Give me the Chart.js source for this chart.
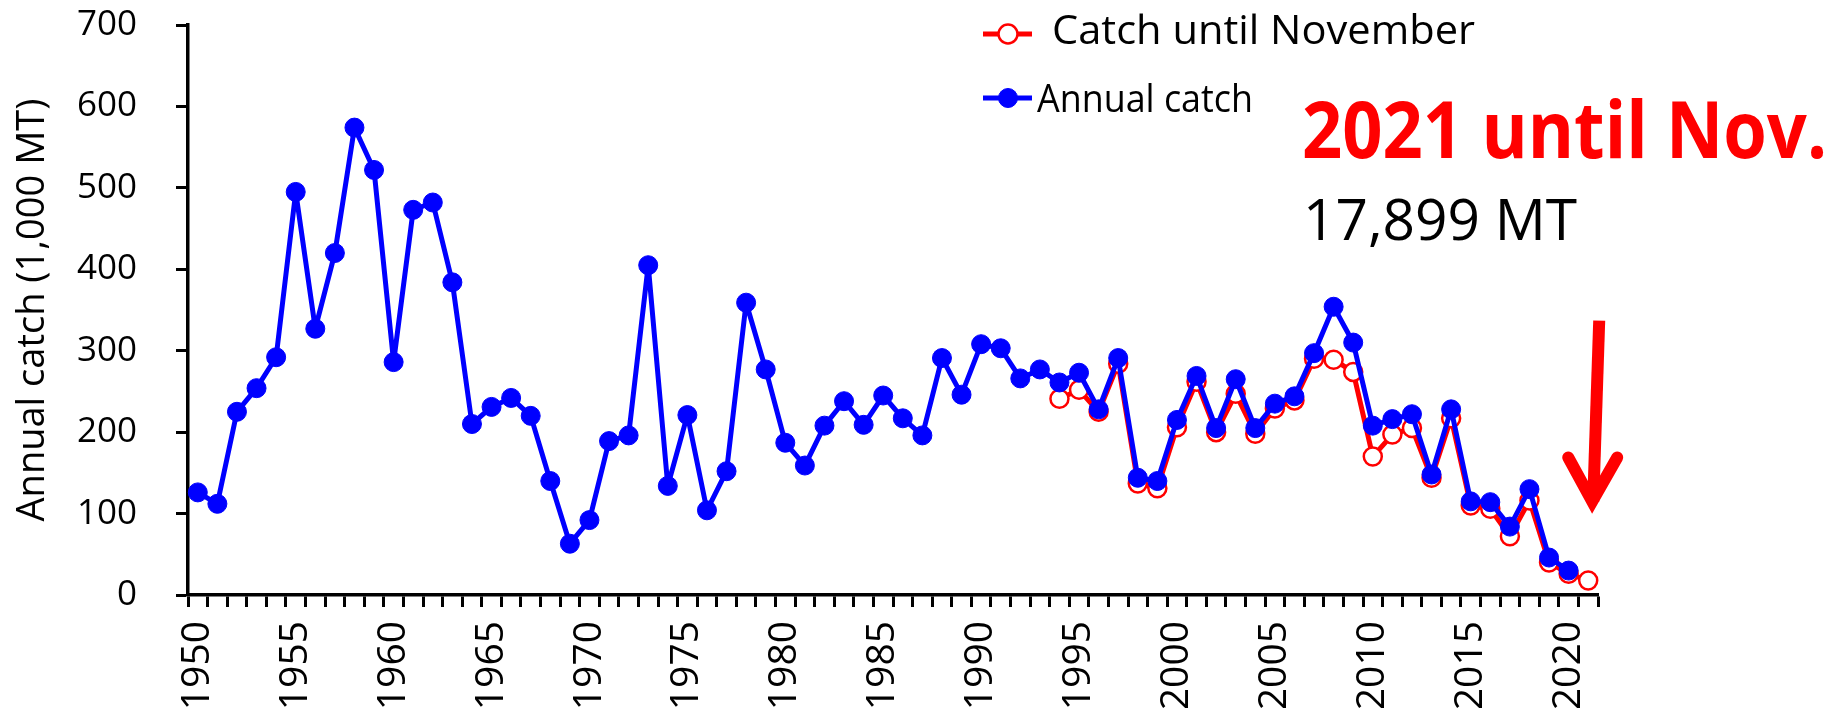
<!DOCTYPE html>
<html>
<head>
<meta charset="utf-8">
<title>Annual catch</title>
<script src="https://cdn.jsdelivr.net/npm/chart.js@4.4.1/dist/chart.umd.min.js"></script>
<style>
    html, body { margin: 0; padding: 0; background: #fff; }
    #wrap { width: 1835px; height: 708px; }
</style>
</head>
<body>
<div id="wrap"><canvas id="catchChart" width="1835" height="708"></canvas></div>
<script>
// Values, in 1,000 MT
const years = [
    '1950','1951','1952','1953','1954','1955','1956','1957','1958','1959',
    '1960','1961','1962','1963','1964','1965','1966','1967','1968','1969',
    '1970','1971','1972','1973','1974','1975','1976','1977','1978','1979',
    '1980','1981','1982','1983','1984','1985','1986','1987','1988','1989',
    '1990','1991','1992','1993','1994','1995','1996','1997','1998','1999',
    '2000','2001','2002','2003','2004','2005','2006','2007','2008','2009',
    '2010','2011','2012','2013','2014','2015','2016','2017','2018','2019',
    '2020','2021'
];
const annualCatch = [
    126, 112, 225, 254, 292, 495, 327, 420, 574, 522,
    286, 473, 482, 384, 210, 231, 242, 220, 140, 63,
    92, 189, 196, 405, 134, 221, 104, 152, 359, 277,
    187, 159, 208, 238, 209, 245, 217, 196, 291, 246,
    308, 303, 266, 277, 261, 273, 228, 291, 144, 140,
    215, 269, 205, 265, 205, 235, 244, 297, 354, 310,
    208, 216, 222, 148, 228, 115, 114, 84, 130, 46,
    30, null
];
// catch until November only starts in 1994
const novemberFrom = '1994';
const catchUntilNov = [
    241, 252, 225, 284, 137, 131,
    206, 262, 200, 247, 198, 229, 239, 290, 289, 274,
    170, 197, 205, 144, 217, 110, 106, 72, 116, 40,
    26, 17.9
];
const yTicks = [0, 100, 200, 300, 400, 500, 600, 700];
const labelEvery = 5;
const yTitle = 'Annual catch (1,000 MT)';
const noteTitle = '2021 until Nov.';
const noteValue = '17,899 MT';

const RED = '#ff0000';
const BLUE = '#0000ff';
const FONT = '"Open Sans", "Noto Sans", sans-serif';

const startIdx = years.indexOf(novemberFrom);
const novData = years.map((y, i) => i < startIdx ? null : catchUntilNov[i - startIdx]);

// draw text squeezed/stretched to a given width (the original uses Calibri)
function fitText(ctx, text, x, baseline, font, color, width) {
    ctx.save();
    ctx.font = font;
    ctx.fillStyle = color;
    ctx.textAlign = 'left';
    ctx.textBaseline = 'alphabetic';
    const w = ctx.measureText(text).width;
    ctx.translate(x, baseline);
    ctx.scale(width ? width / w : 1, 1);
    ctx.fillText(text, 0, 0);
    ctx.restore();
}

// legend, red note and arrow on top of the plot
const overlay = {
    id: 'overlay',
    afterDraw(chart) {
        const ctx = chart.ctx;
        const xs = chart.scales.x, ys = chart.scales.y;
        const blue = chart.data.datasets[0], red = chart.data.datasets[1];

        const rows = [
            { ds: red, lineY: 34, textX: 1052, base: 43.5, size: 41, width: 423 },
            { ds: blue, lineY: 98, textX: 1037, base: 111.5, size: 39, width: 216 }
        ];
        rows.forEach(r => {
            ctx.save();
            ctx.strokeStyle = r.ds.borderColor;
            ctx.lineWidth = 5;
            ctx.beginPath();
            ctx.moveTo(983, r.lineY);
            ctx.lineTo(1032, r.lineY);
            ctx.stroke();
            ctx.beginPath();
            ctx.arc(1008, r.lineY, 9.5, 0, Math.PI * 2);
            ctx.fillStyle = r.ds.pointBackgroundColor;
            ctx.fill();
            ctx.lineWidth = r.ds.pointBorderWidth;
            ctx.strokeStyle = r.ds.pointBorderColor;
            ctx.stroke();
            ctx.restore();
            fitText(ctx, r.ds.label, r.textX, r.base, `${r.size}px ${FONT}`, '#000', r.width);
        });

        fitText(ctx, noteTitle, 1302, 158, `bold 79px ${FONT}`, RED, 525);
        fitText(ctx, noteValue, 1303, 240, `57px ${FONT}`, '#000', 274);

        // arrow pointing at the 2021 value
        const ax = xs.getPixelForValue(years.length - 1);
        const top = ys.getPixelForValue(337), tip = ys.getPixelForValue(110);
        ctx.save();
        ctx.strokeStyle = RED;
        ctx.lineWidth = 12;
        ctx.beginPath();
        ctx.moveTo(ax + 11, top);
        ctx.lineTo(ax + 5, tip - 4);
        ctx.stroke();
        ctx.lineJoin = 'miter';
        ctx.lineCap = 'round';
        ctx.beginPath();
        ctx.moveTo(ax - 20, tip - 48);
        ctx.lineTo(ax + 4, tip - 4);
        ctx.lineTo(ax + 29, tip - 48);
        ctx.stroke();
        ctx.restore();
    }
};

const axisGrid = { drawOnChartArea: false, drawTicks: true, tickLength: 12, tickWidth: 3, tickColor: '#000' };
const axisBorder = { display: true, color: '#000', width: 3.5 };

new Chart(document.getElementById('catchChart').getContext('2d'), {
    type: 'line',
    data: {
        labels: years,
        datasets: [
            { label: 'Annual catch', data: annualCatch, borderColor: BLUE, backgroundColor: BLUE,
              pointBackgroundColor: BLUE, pointBorderColor: BLUE, borderWidth: 5, borderJoinStyle: 'round',
              pointRadius: 9.5, pointBorderWidth: 1, tension: 0, clip: false },
            { label: 'Catch until November', data: novData, borderColor: RED, backgroundColor: '#fff',
              pointBackgroundColor: '#fff', pointBorderColor: RED, borderWidth: 5, borderJoinStyle: 'round',
              pointRadius: 9, pointBorderWidth: 2.5, tension: 0, clip: false }
        ]
    },
    options: {
        responsive: false,
        animation: false,
        devicePixelRatio: 1,
        layout: { padding: { top: 25, right: 237, bottom: 0, left: 0 } },
        plugins: { legend: { display: false }, tooltip: { enabled: false } },
        scales: {
            x: {
                offset: true,
                grid: { ...axisGrid, offset: true },
                border: axisBorder,
                ticks: {
                    autoSkip: false, maxRotation: 90, minRotation: 90, padding: 14, color: '#000',
                    font: { family: FONT, size: 39 },
                    callback: (v, i) => Number(years[i]) % labelEvery === 0 ? years[i] : ''
                },
                afterFit: s => { s.height = 113; }
            },
            y: {
                min: 0, max: 700,
                afterBuildTicks: s => { s.ticks = yTicks.map(v => ({ value: v })); },
                grid: axisGrid,
                border: axisBorder,
                ticks: { padding: 39, color: '#000', font: { family: FONT, size: 35 } },
                title: { display: true, text: yTitle, color: '#000', font: { family: FONT, size: 38 }, padding: { top: 10, bottom: 0 } },
                // the big label padding would otherwise push the plot top down
                afterFit: s => { s.width = 188; s.paddingTop = 0; s.paddingBottom = 0; }
            }
        }
    },
    plugins: [overlay]
});
</script>
</body>
</html>
